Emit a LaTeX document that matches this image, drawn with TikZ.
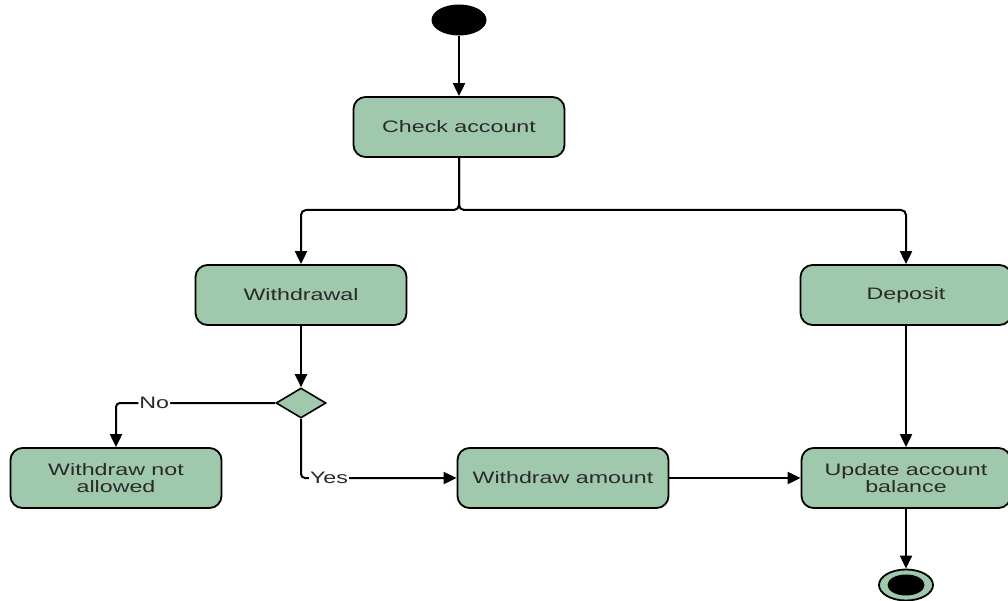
\documentclass[tikz,border=0pt]{standalone}
\usepackage{fontspec}
\setmainfont[FakeStretch=1.4]{Liberation Sans}
\usepackage{tikz}
\usetikzlibrary{positioning, arrows.meta, shapes.geometric}

\definecolor{actfill}{HTML}{9FC8AD}
\definecolor{acttext}{HTML}{2A2A2A}

\tikzset{
  action/.style={draw=black, line width=1.8pt, fill=actfill, rounded corners=12pt,
    minimum width=211pt, minimum height=60pt, text=acttext, align=center,
    font=\fontsize{16.6}{17}\selectfont},
  decision/.style={draw=black, line width=1.6pt, fill=actfill, diamond, aspect=1.67,
    minimum width=50pt, minimum height=30pt, inner sep=0pt},
  initial/.style={ellipse, fill=black, minimum width=55pt, minimum height=31pt},
  flow/.style={line width=2pt, -{Triangle[width=12pt,length=13pt]}},
  guard/.style={fill=white, inner sep=1pt, text=acttext, font=\fontsize{16.6}{17}\selectfont}
}

\begin{document}
\begin{tikzpicture}[x=1pt, y=-1pt]
    \useasboundingbox (0,0) rectangle (1008,601);

    % Start and end
    \node[initial] (start) at (459,20) {};
    \node[ellipse, draw=black, line width=1.8pt, fill=actfill, minimum width=54pt, minimum height=31pt] (stop) at (906,585) {};
    \node[ellipse, fill=black, minimum width=37pt, minimum height=21pt] (stopdot) at (stop) {};

    % Actions
    \node[action] (check) at (459,127) {Check account};
    \node[action] (withdrawal) at (301,295) {Withdrawal};
    \node[action] (deposit) at (906,295) {Deposit};
    \node[decision] (decide) at (301,403) {};
    \node[action] (notallowed) at (116,478) {Withdraw not\\allowed};
    \node[action] (amount) at (563,478) {Withdraw amount};
    \node[action, minimum width=209pt] (update) at (906,478) {Update account\\balance};

    % Flows
    \coordinate (split) at (459,210);
    \draw[flow] (start) -- (check);
    \draw[flow, rounded corners=5pt] (check.south) -- (split) -| (withdrawal.north);
    \draw[flow, rounded corners=5pt] (check.south) -- (split) -| (deposit.north);
    \draw[flow] (withdrawal) -- (decide);
    \draw[flow, rounded corners=4pt] (decide.west) -| node[guard, pos=0.38] {No} (notallowed.north);
    \draw[flow, rounded corners=4pt] (decide.south) |- node[guard, pos=0.59] {Yes} (amount.west);
    \draw[flow] (amount) -- (update);
    \draw[flow] (deposit) -- (update);
    \draw[flow] (update) -- (stop);

  \end{tikzpicture}
\end{document}
